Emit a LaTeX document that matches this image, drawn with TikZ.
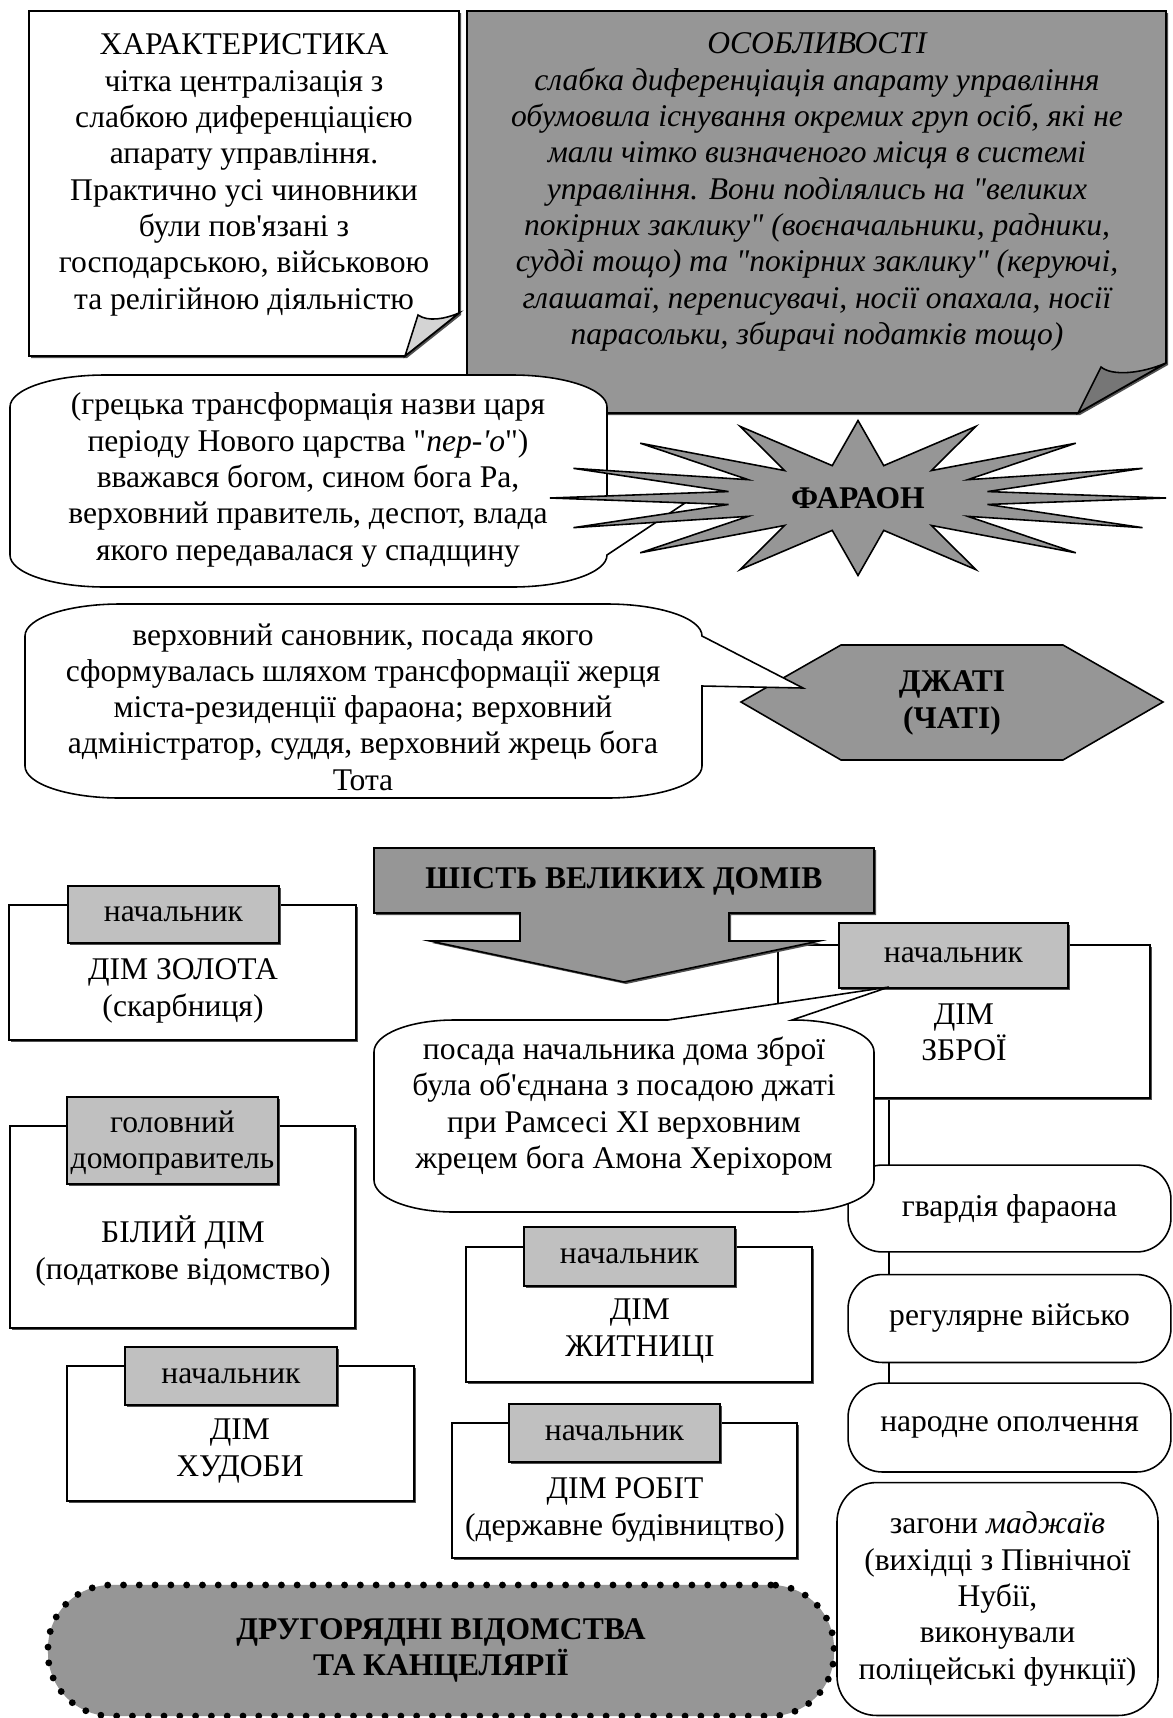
\documentclass[tikz,border=0pt]{standalone}
\usepackage{fontspec}
\setmainfont{Liberation Serif}[Ligatures=TeXOff]
\definecolor{gmain}{RGB}{150,150,150}
\definecolor{ghdr}{RGB}{192,192,192}
\definecolor{curllight}{RGB}{212,212,212}
\definecolor{curldark}{RGB}{118,118,118}
\definecolor{shc}{RGB}{80,80,80}
\newcommand\housebox[4]{%
  \fill[shc] (#1+1.8,#2+1.8) rectangle (#3+1.8,#4+1.8);
  \filldraw[fill=white] (#1,#2) rectangle (#3,#4);}
\newcommand\headbox[4]{%
  \fill[shc] (#1+1.8,#2+1.8) rectangle (#3+1.8,#4+1.8);
  \filldraw[fill=ghdr] (#1,#2) rectangle (#3,#4);}
\begin{document}
\begin{tikzpicture}[x=0.38pt,y=-0.38pt,line width=0.6pt,line join=miter,
  every node/.style={font=\fontsize{12}{13.8}\selectfont,align=center,inner sep=0pt},
  btxt/.style={font=\fontsize{12}{13.8}\selectfont\bfseries},
  itxt/.style={font=\fontsize{12}{13.8}\selectfont\itshape},
  mil/.style={draw,fill=white,rounded corners=13pt,minimum width=122.7pt},
  conn/.style={draw,line width=0.6pt}]
\useasboundingbox[fill=white] (0,0) rectangle (1173,1718);

% ---- top notes ----
\fill[shc] (31,13) -- (461,13) -- (461,315) -- (407,358) -- (31,358) -- cycle;
\filldraw[fill=white] (29,11) -- (459,11) -- (459,313) -- (405,356) -- (29,356) -- cycle;
\filldraw[fill=curllight] (405,356) -- (418,315) .. controls (428,322) and (445,319) .. (459,313) -- cycle;
\node (charact) at (244,175) {ХАРАКТЕРИСТИКА\\чітка централізація з\\слабкою диференціацією\\апарату управління.\\Практично усі чиновники\\були пов'язані з\\господарською, військовою\\та релігійною діяльністю};

\fill[shc] (469,13) -- (1168,13) -- (1168,365) -- (1080,415) -- (469,415) -- cycle;
\filldraw[fill=gmain] (467,11) -- (1166,11) -- (1166,363) -- (1078,413) -- (467,413) -- cycle;
\filldraw[fill=curldark] (1078,413) -- (1101,367) .. controls (1112,376) and (1140,374) .. (1166,363) -- cycle;
\node[itxt] (features) at (817,192) {ОСОБЛИВОСТІ\\слабка диференціація апарату управління\\обумовила існування окремих груп осіб, які не\\мали чітко визначеного місця в системі\\управління. Вони поділялись на "великих\\покірних заклику" (воєначальники, радники,\\судді тощо) та "покірних заклику" (керуючі,\\глашатаї, переписувачі, носії опахала, носії\\парасольки, збирачі податків тощо)};

% ---- pharaoh callout ----
\filldraw[fill=white] (105,375) -- (512,375) .. controls +(52,0) and +(0,-18) .. (607,407) -- (607,497) -- (685,503) -- (607,555) .. controls +(0,18) and +(52,0) .. (512,587) -- (105,587) .. controls +(-52,0) and +(0,18) .. (10,555) -- (10,407) .. controls +(0,-18) and +(-52,0) .. (105,375) -- cycle;
\node (pharaohnote) at (308,480) {(грецька трансформація назви царя\\періоду Нового царства "\textit{пер-'о}")\\вважався богом, сином бога Ра,\\верховний правитель, деспот, влада\\якого передавалася у спадщину};

\begin{scope}[shift={(858,498)}]
\filldraw[fill=gmain] (0:308 and 77.5) \foreach \k in {0,...,15}{ -- ({\k*22.5+11.25}:132 and 33) -- ({(\k+1)*22.5}:308 and 77.5)} -- cycle;
\end{scope}
\node[btxt] (pharaoh) at (858,498) {ФАРАОН};

% ---- djati ----
\filldraw[fill=gmain] (741,702) -- (841,645) -- (1063,645) -- (1163,702) -- (1063,760) -- (841,760) -- cycle;
\node[btxt,align=center] (djati) at (952,703) {ДЖАТІ\\(ЧАТІ)};
\filldraw[fill=white] (120,604) -- (607,604) .. controls +(52,0) and +(0,-18) .. (702,636) -- (803,688) -- (702,686) -- (702,766) .. controls +(0,18) and +(52,0) .. (607,798) -- (120,798) .. controls +(-52,0) and +(0,18) .. (25,766) -- (25,636) .. controls +(0,-18) and +(-52,0) .. (120,604) -- cycle;
\node (djatinote) at (363,707) {верховний сановник, посада якого\\сформувалась шляхом трансформації жерця\\міста-резиденції фараона; верховний\\адміністратор, суддя, верховний жрець бога\\Тота};

% ---- houses ----
\housebox{9}{905}{356}{1040}
\headbox{68}{886}{279}{943}
\node (goldhead) at (173.5,914.5) {начальник};
\node (gold) at (183,991) {ДІМ ЗОЛОТА\\(скарбниця)};

\housebox{10}{1126}{355}{1328}
\headbox{67}{1097}{278}{1184}
\node (whitehead) at (172.5,1143) {головний\\домоправитель};
\node (white) at (183,1251) {БІЛИЙ ДІМ\\(податкове відомство)};

\housebox{466}{1247}{812}{1382}
\headbox{524}{1227}{735}{1286}
\node (granaryhead) at (629.5,1256.5) {начальник};
\node (granary) at (640,1331) {ДІМ\\ЖИТНИЦІ};

\housebox{67}{1366}{414}{1501}
\headbox{125}{1347}{337}{1405}
\node (cattlehead) at (231,1376) {начальник};
\node (cattle) at (240,1451) {ДІМ\\ХУДОБИ};

\housebox{452}{1423}{797}{1558}
\headbox{509}{1404}{720}{1462}
\node (workshead) at (614.5,1433) {начальник};
\node (works) at (625,1510) {ДІМ РОБІТ\\(державне будівництво)};

% ---- military column ----
\coordinate (armsbottom) at (889,1098);
\coordinate (militiatop) at (889,1383);
\draw[conn] (armsbottom) -- (militiatop);
\node[mil,minimum height=33pt] (guard) at (1009.5,1208.5) {гвардія фараона};
\node[mil,minimum height=33.4pt] (army) at (1009.5,1318.5) {регулярне військо};
\node[mil,minimum height=33.8pt] (militia) at (1009.5,1427.5) {народне ополчення};
\node[mil,minimum width=122pt,minimum height=88.5pt,rounded corners=15pt] (medjay) at (997.5,1599) {загони \textit{маджаїв}\\(вихідці з Північної\\Нубії,\\виконували\\поліцейські функції)};

\housebox{778}{945}{1150}{1098}
\headbox{839}{923}{1068}{988}
\node (armshead) at (953.5,955.5) {начальник};
\node (arms) at (964,1032) {ДІМ\\ЗБРОЇ};

% ---- six great houses arrow ----
\fill[shc] (376,850) -- (876,850) -- (876,915) -- (731,915) -- (731,943) -- (821,943) -- (626,984) -- (432,943) -- (522,943) -- (522,915) -- (376,915) -- cycle;
\filldraw[fill=gmain] (374,848) -- (874,848) -- (874,913) -- (729,913) -- (729,941) -- (819,941) -- (624,982) -- (430,941) -- (520,941) -- (520,913) -- (374,913) -- cycle;
\node[btxt] (six) at (624,881) {ШІСТЬ ВЕЛИКИХ ДОМІВ};

% ---- arms callout ----
\filldraw[fill=white] (454,1020) -- (668,1020) -- (889,987) -- (792,1020) -- (794,1020) .. controls +(44,0) and +(0,-18) .. (874,1052) -- (874,1180) .. controls +(0,18) and +(44,0) .. (794,1212) -- (454,1212) .. controls +(-44,0) and +(0,18) .. (374,1180) -- (374,1052) .. controls +(0,-18) and +(-44,0) .. (454,1020) -- cycle;
\node (armsnote) at (624,1106) {посада начальника дома зброї\\була об'єднана з посадою джаті\\при Рамсесі XI верховним\\жрецем бога Амона Херіхором};

% ---- minor offices ----
\node[btxt,align=center,fill=gmain,rounded corners=24pt,minimum width=298.7pt,minimum height=49.8pt,draw,line width=2.6pt,line cap=round,dash pattern=on 0pt off 6pt] (minor) at (441,1650.5) {ДРУГОРЯДНІ ВІДОМСТВА\\ТА КАНЦЕЛЯРІЇ};
\end{tikzpicture}
\end{document}
